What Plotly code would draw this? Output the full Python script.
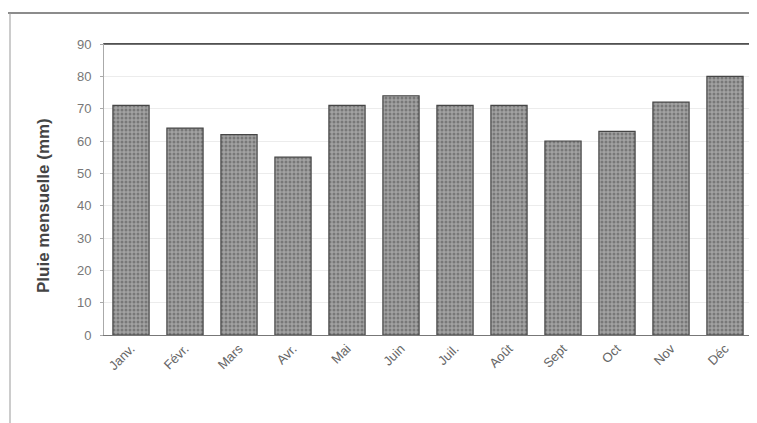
import plotly.graph_objects as go

months = ["Janv.", "Févr.", "Mars", "Avr.", "Mai", "Juin", "Juil.", "Août", "Sept", "Oct", "Nov", "Déc"]
rain_mm = [71, 64, 62, 55, 71, 74, 71, 71, 60, 63, 72, 80]
y_ticks = [0, 10, 20, 30, 40, 50, 60, 70, 80, 90]
y_title = "Pluie mensuelle (mm)"

# the page body has an 8px margin, so the figure is drawn 8px in from the top-left
W, H = 749, 415
L, R, T, B = 96, 5, 36, 88
pw, ph = W - L - R, H - T - B


def px(x):  # page pixel -> paper x
    return (x - 8 - L) / pw


def py(y):  # page pixel -> paper y
    return 1 - (y - 8 - T) / ph


fig = go.Figure()
fig.add_trace(go.Bar(
    x=months, y=rain_mm,
    marker=dict(
        color="#959595",
        line=dict(color="#454545", width=1.2),
        pattern=dict(shape=".", fgcolor="#4e4e4e", bgcolor="#a2a2a2", size=4, solidity=0.45),
    ),
    showlegend=False,
))

fig.update_layout(
    width=W, height=H,
    margin=dict(l=L, r=R, t=T, b=B),
    paper_bgcolor="white", plot_bgcolor="white",
    bargap=0.33,
    font=dict(family="Liberation Sans, Arial, sans-serif", color="#666"),
    xaxis=dict(
        tickangle=-45, tickfont=dict(size=13, color="#666"),
        showline=True, linecolor="#777", linewidth=1, mirror=True,
        showgrid=False, ticks="",
    ),
    yaxis=dict(
        range=[0, 90], tickvals=y_ticks, ticktext=[str(v) for v in y_ticks],
        tickfont=dict(size=13, color="#777"),
        showline=True, linecolor="#aaa", linewidth=1, mirror=True,
        showgrid=True, gridcolor="#ececec", gridwidth=1,
        ticks="outside", ticklen=3, tickcolor="#aaa", ticklabelstandoff=6,
        zeroline=False, automargin=False,
    ),
    annotations=[
        dict(text="<b>" + y_title + "</b>", textangle=-90, xref="paper", yref="paper",
             x=px(43), y=py(206), xanchor="center", yanchor="middle", showarrow=False,
             font=dict(size=17, color="#444")),
    ],
    shapes=[
        dict(type="line", xref="paper", yref="paper", x0=px(0), x1=px(757), y0=py(13), y1=py(13),
             line=dict(color="#666", width=1.5)),
        dict(type="line", xref="paper", yref="paper", x0=px(10), x1=px(10), y0=py(13), y1=py(423),
             line=dict(color="#999", width=1)),
        dict(type="line", xref="paper", yref="paper", x0=1.0, x1=1.0, y0=1.0, y1=0.0,
             line=dict(color="#555", width=1.2)),
        dict(type="line", xref="paper", yref="paper", x0=0.0, x1=1.0, y0=1.0, y1=1.0,
             line=dict(color="#444", width=1.5)),
    ],
)

fig.write_html("out.html")
